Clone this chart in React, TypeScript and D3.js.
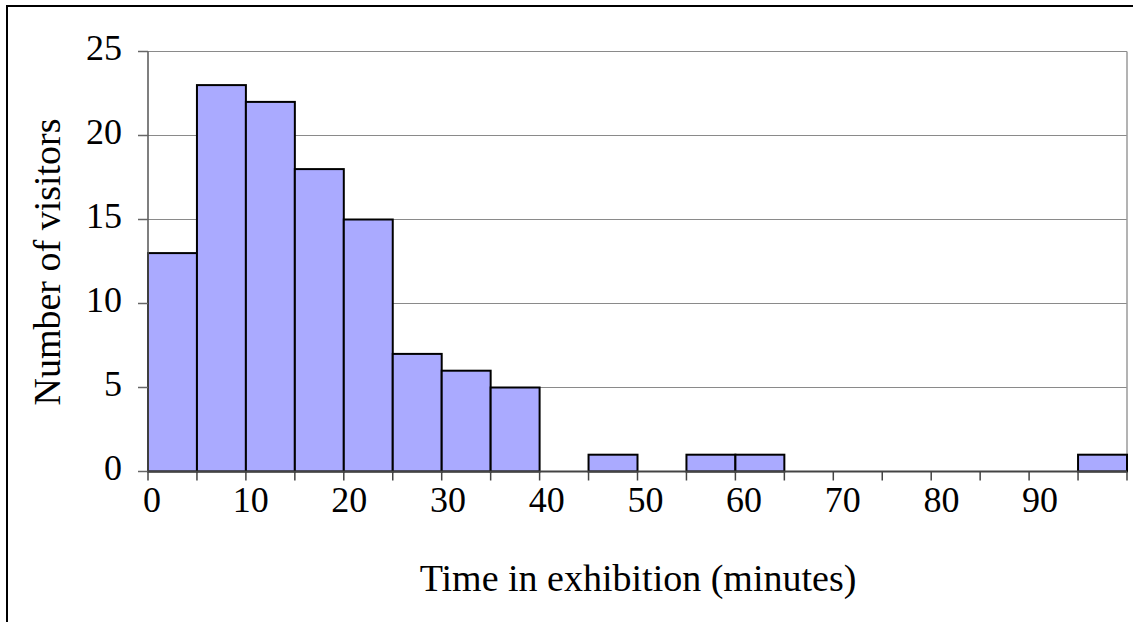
import React from "react";
import * as d3 from "d3";

// Histogram of visit durations, 5-minute bins from 0 to 100 minutes
const binStarts = [0, 5, 10, 15, 20, 25, 30, 35, 40, 45, 50, 55, 60, 65, 70, 75, 80, 85, 90, 95];
const visitorCounts = [13, 23, 22, 18, 15, 7, 6, 5, 0, 1, 0, 1, 1, 0, 0, 0, 0, 0, 0, 1];
const yTickValues = [0, 5, 10, 15, 20, 25];
const xLabelValues = [0, 10, 20, 30, 40, 50, 60, 70, 80, 90];
const xTitle = "Time in exhibition (minutes)";
const yTitle = "Number of visitors";

const W = 1133;
const H = 622;
const FONT = "'Liberation Serif', 'Times New Roman', Times, serif";

export default function App() {
  const left = 148;
  const right = 1127;
  const top = 51.5;
  const bottom = 471.5;

  const x = d3.scaleLinear().domain([0, 100]).range([left, right]);
  const y = d3.scaleLinear().domain([0, 25]).range([bottom, top]);
  // tick labels sit a touch to the right of their ticks
  const labelX = d3.scaleLinear().domain([0, 90]).range([x(0) + 4, x(90) + 11]);
  const binWidth = 5;
  const tickPositions = d3.range(0, 101, 5);

  return (
    <svg
      width={W}
      height={H}
      style={{ position: "absolute", left: 0, top: 0, display: "block", background: "#fff" }}
    >
      {/* outer chart frame */}
      <path d={`M7,${H + 10} V6 H${W + 10}`} fill="none" stroke="#000" strokeWidth={2} />

      {/* horizontal gridlines */}
      {yTickValues
        .filter((v) => v > 0)
        .map((v) => (
          <line key={`g${v}`} x1={left} x2={right} y1={y(v)} y2={y(v)} stroke="#8a8a8a" strokeWidth={1.2} />
        ))}
      {/* plot area right edge */}
      <line x1={right} x2={right} y1={top} y2={bottom} stroke="#9a9a9a" strokeWidth={1.5} />

      {/* bars */}
      {binStarts.map((b, i) =>
        visitorCounts[i] > 0 ? (
          <rect
            key={`b${b}`}
            x={x(b)}
            y={y(visitorCounts[i])}
            width={x(b + binWidth) - x(b)}
            height={y(0) - y(visitorCounts[i])}
            fill="#aaaaff"
            stroke="#000"
            strokeWidth={2}
          />
        ) : null
      )}

      {/* y axis */}
      <line x1={left} x2={left} y1={top} y2={bottom} stroke="#555" strokeWidth={1.5} />
      {yTickValues.map((v) => (
        <g key={`y${v}`}>
          <line x1={left - 10} x2={left} y1={y(v)} y2={y(v)} stroke="#666" strokeWidth={1.5} />
          <text
            x={122}
            y={y(v) + 8.5}
            textAnchor="end"
            fontFamily={FONT}
            fontSize={36}
            fill="#000"
          >
            {v}
          </text>
        </g>
      ))}

      {/* x axis */}
      <line x1={left} x2={right} y1={bottom} y2={bottom} stroke="#444" strokeWidth={2} />
      {tickPositions.map((t) => (
        <line key={`xt${t}`} x1={x(t)} x2={x(t)} y1={bottom} y2={bottom + 9} stroke="#444" strokeWidth={1.5} />
      ))}
      {xLabelValues.map((v) => (
        <text
          key={`xl${v}`}
          x={labelX(v)}
          y={512}
          textAnchor="middle"
          fontFamily={FONT}
          fontSize={36}
          fill="#000"
        >
          {v}
        </text>
      ))}

      {/* axis titles */}
      <text x={638} y={591} textAnchor="middle" fontFamily={FONT} fontSize={38} fill="#000">
        {xTitle}
      </text>
      <text
        transform={`translate(60,262) rotate(-90)`}
        textAnchor="middle"
        fontFamily={FONT}
        fontSize={38}
        fill="#000"
      >
        {yTitle}
      </text>
    </svg>
  );
}
